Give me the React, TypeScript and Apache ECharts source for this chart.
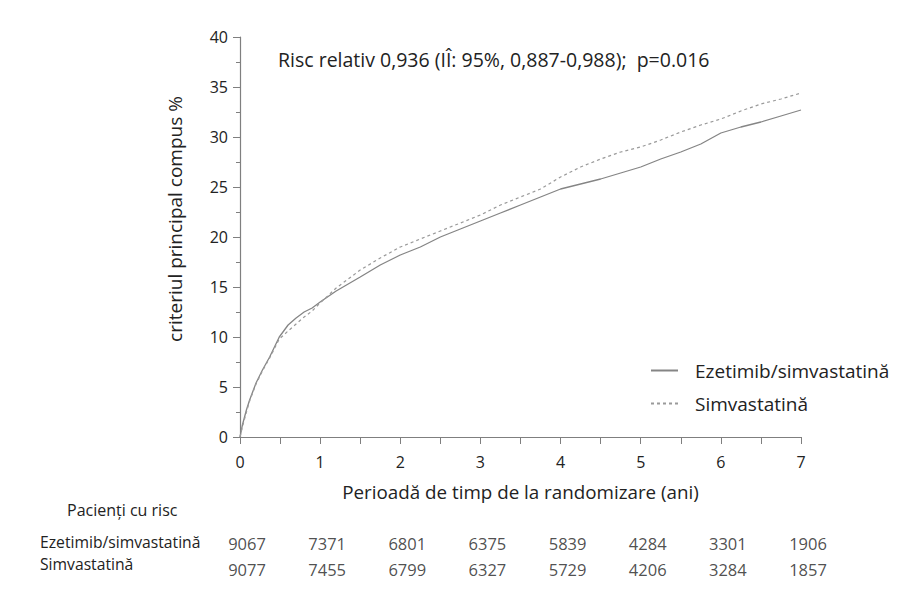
import React, { useEffect, useRef } from "react";
import * as echarts from "echarts";

const timeYears = [0, 0.03, 0.08, 0.12, 0.2, 0.28, 0.37, 0.49, 0.6, 0.7, 0.8, 0.9, 1.0, 1.2, 1.5, 1.75, 2.0, 2.25, 2.5, 2.75, 3.0, 3.25, 3.5, 3.75, 4.0, 4.25, 4.5, 4.75, 5.0, 5.25, 5.5, 5.75, 6.0, 6.25, 6.5, 6.75, 7.0];
const ezetimibValues = [0, 1.2, 2.7, 3.7, 5.4, 6.7, 8.0, 10.0, 11.2, 11.9, 12.5, 12.9, 13.5, 14.6, 16.0, 17.2, 18.2, 19.0, 20.0, 20.8, 21.6, 22.4, 23.2, 24.0, 24.8, 25.3, 25.8, 26.4, 27.0, 27.8, 28.5, 29.3, 30.4, 31.0, 31.5, 32.1, 32.7];
const simvaValues = [0, 1.0, 2.5, 3.6, 5.3, 6.6, 7.9, 9.8, 10.6, 11.3, 12.0, 12.6, 13.4, 14.9, 16.7, 17.9, 19.0, 19.8, 20.6, 21.4, 22.2, 23.2, 24.0, 24.8, 26.0, 27.0, 27.8, 28.5, 29.0, 29.7, 30.5, 31.2, 31.8, 32.6, 33.3, 33.8, 34.4];

const seriesNames = ["Ezetimib/simvastatină", "Simvastatină"];
const riskYears = [0, 1, 2, 3, 4, 5, 6, 7];
const riskEzetimib = [9067, 7371, 6801, 6375, 5839, 4284, 3301, 1906];
const riskSimva = [9077, 7455, 6799, 6327, 5729, 4206, 3284, 1857];

const titleText = "Risc relativ 0,936 (IÎ: 95%, 0,887-0,988);  p=0.016";
const xAxisTitle = "Perioadă de timp de la randomizare (ani)";
const yAxisTitle = "criteriul principal compus %";
const riskHeader = "Pacienți cu risc";

const FONT = "'Open Sans', 'Noto Sans', sans-serif";
const AXIS_COLOR = "#7f7f7f";
const TEXT_COLOR = "#222";

export default function App() {
  const ref = useRef<HTMLDivElement>(null);
  useEffect(() => {
    if (!ref.current) return;
    const chart = echarts.init(ref.current, undefined, { renderer: "svg" });
    const pair = (xs: number[], ys: number[]) => xs.map((x, i) => [x, ys[i]]);
    const riskLabel = (p: any) => String(p.value[2]);
    const legendCommon = {
      left: 645,
      itemWidth: 27,
      itemHeight: 10,
      itemStyle: { opacity: 0 },
      textStyle: { fontSize: 19, color: TEXT_COLOR, fontFamily: FONT, padding: [0, 0, 0, 12] },
      selectedMode: false,
    };
    chart.setOption({
      animation: false,
      backgroundColor: "#fff",
      textStyle: { fontFamily: FONT },
      grid: [
        { left: 240, right: 120, top: 37, bottom: 165 },
        { left: 247, right: 113, top: 530, height: 52 },
      ],
      xAxis: [
        {
          type: "value",
          gridIndex: 0,
          min: 0,
          max: 7,
          interval: 1,
          name: xAxisTitle,
          nameLocation: "middle",
          nameGap: 45,
          nameTextStyle: { fontSize: 18.8, color: TEXT_COLOR, fontFamily: FONT },
          axisLine: { show: true, lineStyle: { color: AXIS_COLOR, width: 1.2 } },
          axisTick: { show: true, length: 7, inside: false, lineStyle: { color: AXIS_COLOR } },
          minorTick: { show: true, splitNumber: 2, length: 7, lineStyle: { color: AXIS_COLOR } },
          axisLabel: { fontSize: 16, color: TEXT_COLOR, margin: 17, fontFamily: FONT },
          splitLine: { show: false },
        },
        {
          type: "value",
          gridIndex: 1,
          min: 0,
          max: 7,
          show: false,
        },
      ],
      yAxis: [
        {
          type: "value",
          gridIndex: 0,
          min: 0,
          max: 40,
          interval: 5,
          axisLine: { show: true, lineStyle: { color: AXIS_COLOR, width: 1.2 } },
          axisTick: { show: true, length: 7, lineStyle: { color: AXIS_COLOR } },
          minorTick: { show: true, splitNumber: 2, length: 4, lineStyle: { color: AXIS_COLOR } },
          axisLabel: { fontSize: 16, color: TEXT_COLOR, margin: 12, fontFamily: FONT },
          splitLine: { show: false },
        },
        {
          type: "category",
          gridIndex: 1,
          data: ["Simvastatină", "Ezetimib/simvastatină"],
          show: false,
        },
      ],
      legend: [
        { ...legendCommon, data: [seriesNames[0]], top: 356 },
        { ...legendCommon, data: [seriesNames[1]], top: 389 },
      ],
      series: [
        {
          name: seriesNames[0],
          type: "line",
          xAxisIndex: 0,
          yAxisIndex: 0,
          data: pair(timeYears, ezetimibValues),
          showSymbol: false,
          symbol: "none",
          lineStyle: { color: "#858585", width: 1.3, type: "solid" },
          itemStyle: { color: "#858585" },
        },
        {
          name: seriesNames[1],
          type: "line",
          xAxisIndex: 0,
          yAxisIndex: 0,
          data: pair(timeYears, simvaValues),
          showSymbol: false,
          symbol: "none",
          lineStyle: { color: "#9a9a9a", width: 1.2, type: [3, 3] },
          itemStyle: { color: "#9a9a9a" },
        },
        {
          name: "risk1",
          type: "scatter",
          xAxisIndex: 1,
          yAxisIndex: 1,
          symbolSize: 0,
          data: riskYears.map((y, i) => [y, "Ezetimib/simvastatină", riskEzetimib[i]]),
          label: { show: true, position: "inside", formatter: riskLabel, fontSize: 16.5, color: TEXT_COLOR, fontFamily: FONT },
          silent: true,
        },
        {
          name: "risk2",
          type: "scatter",
          xAxisIndex: 1,
          yAxisIndex: 1,
          symbolSize: 0,
          data: riskYears.map((y, i) => [y, "Simvastatină", riskSimva[i]]),
          label: { show: true, position: "inside", formatter: riskLabel, fontSize: 16.5, color: TEXT_COLOR, fontFamily: FONT },
          silent: true,
        },
      ],
      graphic: [
        {
          type: "text",
          left: 278,
          top: 49,
          style: { text: titleText, fontSize: 19.5, fill: TEXT_COLOR, fontFamily: FONT },
        },
        {
          type: "text",
          x: 175,
          y: 219,
          rotation: Math.PI / 2,
          style: { text: yAxisTitle, fontSize: 19, fill: TEXT_COLOR, fontFamily: FONT, align: "center", verticalAlign: "middle" },
        },
        {
          type: "text",
          left: 67,
          top: 502,
          style: { text: riskHeader, fontSize: 16, fill: TEXT_COLOR, fontFamily: FONT },
        },
        {
          type: "text",
          left: 40,
          top: 534,
          style: { text: seriesNames[0], fontSize: 15.7, fill: TEXT_COLOR, fontFamily: FONT },
        },
        {
          type: "text",
          left: 40,
          top: 556,
          style: { text: seriesNames[1], fontSize: 15.7, fill: TEXT_COLOR, fontFamily: FONT },
        },
      ],
    });
    return () => chart.dispose();
  }, []);
  return <div ref={ref} style={{ position: "absolute", left: 0, top: 0, width: 921, height: 602 }} />;
}
